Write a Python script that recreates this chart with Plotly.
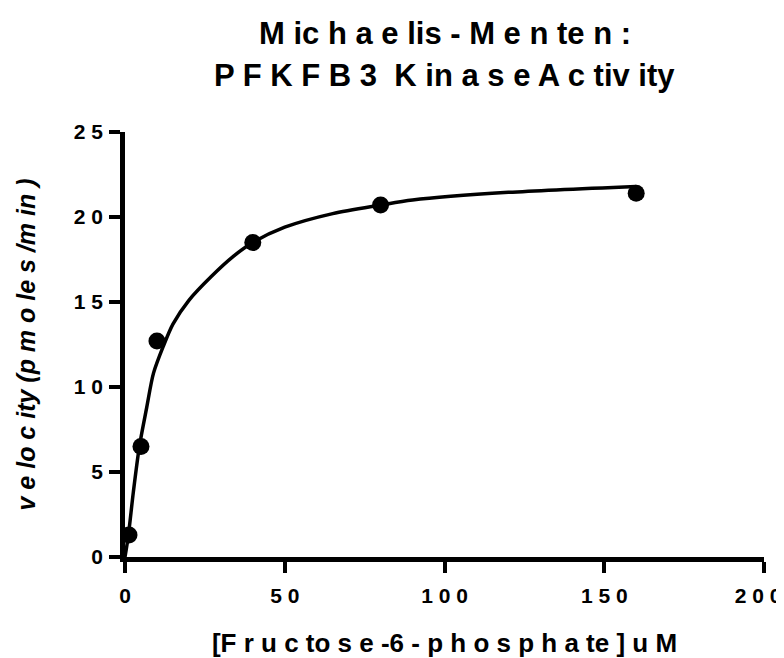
import plotly.graph_objects as go

# Measured data (substrate concentration, uM ; velocity, pmoles/min)
substrate = [1.25, 5, 10, 40, 80, 160]
velocity = [1.3, 6.5, 12.7, 18.5, 20.7, 21.4]

# Fitted Michaelis-Menten curve
fit_x = [0, 1, 2.6, 4.5, 6.8, 8.9, 12, 15, 20, 27, 34, 40, 50, 65, 80, 90, 120, 160]
fit_y = [0, 1.2, 3.8, 6.5, 8.8, 10.8, 12.4, 13.7, 15.1, 16.5, 17.7, 18.5, 19.4, 20.2, 20.7, 21.0, 21.45, 21.8]

x_tickvals = [0, 50, 100, 150, 200]
x_ticktext = ["0", "5 0", "1 0 0", "1 5 0", "2 0 0\u00a0\u00a0"]
y_tickvals = [0, 5, 10, 15, 20, 25]
y_ticktext = ["0", "5", "1 0", "1 5", "2 0", "2 5"]

title_line1 = "M ic h a e lis - M e n te n :"
title_line2 = "P F K F B 3 \u00a0K in a s e A c tiv ity"
x_title = "[F r u c to s e -6 - p h o s p h a te ] u M"
y_title = "<i>v e lo c ity (p m o le s /m in )</i>"

FONT = "Liberation Sans, Arial, Helvetica, sans-serif"

fig = go.Figure()
fig.add_trace(go.Scatter(
    x=fit_x, y=fit_y, mode="lines",
    line=dict(color="black", width=3.5, shape="spline", smoothing=0.8),
    hoverinfo="skip", showlegend=False, cliponaxis=False,
))
fig.add_trace(go.Scatter(
    x=substrate, y=velocity, mode="markers",
    marker=dict(color="black", size=17, line=dict(width=0)),
    showlegend=False, cliponaxis=False,
))

axis_common = dict(
    showline=True, linecolor="black", linewidth=4.5,
    ticks="outside", ticklen=11, tickwidth=4, tickcolor="black",
    showgrid=False, zeroline=False, automargin=False,
    ticklabeloverflow="allow",
)

# The page body adds an 8px offset, so the figure is sized to fit the window.
fig.update_layout(
    width=776, height=650,
    margin=dict(l=117, r=20, t=124, b=101, autoexpand=False),
    paper_bgcolor="white", plot_bgcolor="white",
    font=dict(family=FONT, color="black"),
    xaxis=dict(
        range=[0, 200], tickvals=x_tickvals, ticktext=x_ticktext,
        tickfont=dict(size=21, family=FONT, weight="bold"),
        ticklabelstandoff=5,
        title=dict(text=x_title, font=dict(size=26, family=FONT, weight="bold"), standoff=34),
        **axis_common,
    ),
    yaxis=dict(
        range=[0, 25], tickvals=y_tickvals, ticktext=y_ticktext,
        tickfont=dict(size=21, family=FONT, weight="bold"),
        ticklabelstandoff=2,
        title=dict(text=y_title, font=dict(size=25, family=FONT, weight="bold"), standoff=33),
        **axis_common,
    ),
    annotations=[
        dict(text=title_line1, xref="paper", yref="paper", x=0.5, y=1 + (132 - 33) / 425,
             xanchor="center", yanchor="middle", showarrow=False,
             font=dict(size=31, family=FONT, weight="bold")),
        dict(text=title_line2, xref="paper", yref="paper", x=0.5, y=1 + (132 - 75) / 425,
             xanchor="center", yanchor="middle", showarrow=False,
             font=dict(size=31, family=FONT, weight="bold")),
    ],
)

fig.write_html("out.html")
